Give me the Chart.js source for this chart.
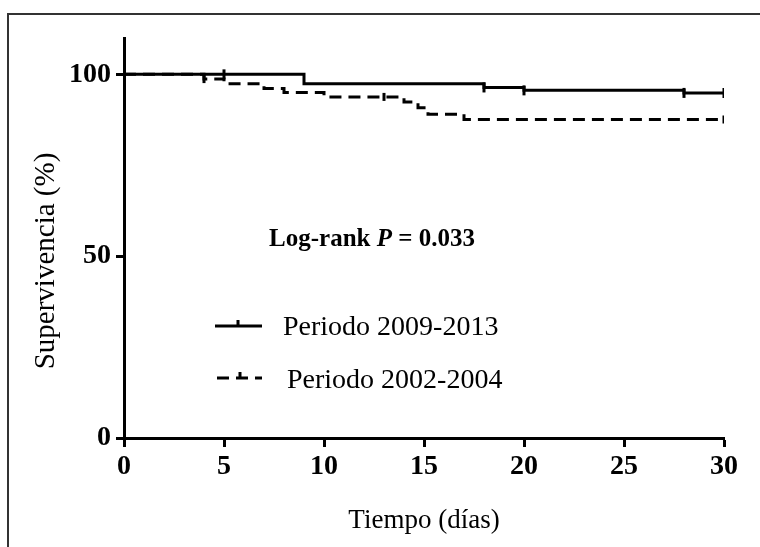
<!DOCTYPE html>
<html>
<head>
<meta charset="utf-8">
<script src="https://cdn.jsdelivr.net/npm/chart.js@4"></script>
<style>
    body { margin: 0; background: #fff; }
    #wrap { position: relative; width: 760px; height: 547px; overflow: hidden; }
    #frame { position: absolute; left: 7px; top: 13px; width: 800px; height: 600px;
             border-left: 2px solid #333; border-top: 2px solid #333; }
    canvas { position: absolute; left: 0; top: 0; }
</style>
</head>
<body>
<div id="wrap">
    <div id="frame"></div>
    <canvas id="kmChart" width="760" height="547"></canvas>
</div>
<script>
// Kaplan-Meier steps
const solidTimes = [0, 9, 18, 20, 28, 30];
const solidSurv = [100, 97.4, 96.4, 95.6, 94.9, 94.9];
const solidCensor = [5, 18, 20, 28, 30];

const dashTimes = [0, 4, 5, 7, 8, 10, 14, 14.7, 15.2, 17, 30];
const dashSurv = [100, 98.7, 97.4, 96.1, 95.0, 93.8, 92.4, 90.8, 89.0, 87.6, 87.6];
const dashCensor = [4, 13, 30];

const xTicks = [0, 5, 10, 15, 20, 25, 30];
const yTicks = [0, 50, 100];

const seriesNames = ["Periodo 2009-2013", "Periodo 2002-2004"];
const serif = "'Liberation Serif', 'Times New Roman', serif";

function survAt(times, surv, t) {
    let v = surv[0];
    for (let i = 0; i < times.length; i++) {
        if (times[i] <= t) v = surv[i];
    }
    return v;
}

function toPoints(xs, ys) {
    return xs.map((x, i) => ({ x: x, y: ys[i] }));
}

const extras = {
    id: "extras",
    afterDraw(chart) {
        const c = chart.ctx;
        c.save();
        c.fillStyle = "#000";
        c.strokeStyle = "#000";

        // axis titles
        c.font = "27px " + serif;
        c.textAlign = "center";
        c.textBaseline = "middle";
        c.fillText("Tiempo (días)", 424, 521);
        c.save();
        c.translate(46, 261);
        c.rotate(-Math.PI / 2);
        c.font = "29px " + serif;
        c.fillText("Supervivencia (%)", 0, 0);
        c.restore();

        // log-rank annotation
        c.textAlign = "left";
        const parts = [
            ["bold 25px " + serif, "Log-rank "],
            ["italic bold 25px " + serif, "P"],
            ["bold 25px " + serif, " = 0.033"]
        ];
        let total = 0;
        parts.forEach(p => { c.font = p[0]; total += c.measureText(p[1]).width; });
        let x = 372 - total / 2;
        parts.forEach(p => {
            c.font = p[0];
            c.fillText(p[1], x, 240);
            x += c.measureText(p[1]).width;
        });

        // legend
        c.lineWidth = 3;
        c.beginPath();
        c.moveTo(215, 326);
        c.lineTo(262, 326);
        c.moveTo(238, 326);
        c.lineTo(238, 320);
        c.stroke();
        c.setLineDash([12, 7]);
        c.beginPath();
        c.moveTo(217, 378);
        c.lineTo(262, 378);
        c.stroke();
        c.setLineDash([]);
        c.beginPath();
        c.moveTo(240, 378);
        c.lineTo(240, 372);
        c.stroke();

        c.font = "28px " + serif;
        c.fillText(seriesNames[0], 283, 328);
        c.fillText(seriesNames[1], 287, 381);
        c.restore();
    }
};

const ctx = document.getElementById("kmChart").getContext("2d");
new Chart(ctx, {
    type: "scatter",
    data: {
        datasets: [
            {
                label: seriesNames[0],
                data: toPoints(solidTimes, solidSurv),
                showLine: true,
                stepped: "before",
                borderColor: "#000",
                borderWidth: 3,
                pointRadius: 0
            },
            {
                label: seriesNames[1],
                data: toPoints(dashTimes, dashSurv),
                showLine: true,
                stepped: "before",
                borderColor: "#000",
                borderWidth: 3,
                borderDash: [12, 7],
                pointRadius: 0
            },
            {
                label: "censor1",
                data: solidCensor.map(t => ({ x: t, y: survAt(solidTimes, solidSurv, t) })),
                pointStyle: "line",
                rotation: 90,
                pointRadius: 5,
                borderWidth: 3,
                borderColor: "#000"
            },
            {
                label: "censor2",
                data: dashCensor.map(t => ({ x: t, y: survAt(dashTimes, dashSurv, t) })),
                pointStyle: "line",
                rotation: 90,
                pointRadius: 4,
                borderWidth: 3,
                borderColor: "#000"
            }
        ]
    },
    options: {
        responsive: false,
        animation: false,
        layout: { padding: { left: 0, right: 36, top: 38, bottom: 0 } },
        plugins: {
            legend: { display: false },
            tooltip: { enabled: false }
        },
        scales: {
            x: {
                type: "linear",
                min: 0,
                max: 30,
                afterBuildTicks: s => { s.ticks = xTicks.map(v => ({ value: v })); },
                afterFit: s => { s.height = 109; },
                border: { color: "#000", width: 3 },
                grid: { drawOnChartArea: false, drawTicks: true, tickLength: 9, tickWidth: 3, tickColor: "#000" },
                ticks: { color: "#000", padding: 3, font: { family: serif, size: 28, weight: "bold" } }
            },
            y: {
                min: 0,
                max: 110,
                afterBuildTicks: s => { s.ticks = yTicks.map(v => ({ value: v })); },
                afterFit: s => { s.width = 124; },
                border: { color: "#000", width: 3 },
                grid: { drawOnChartArea: false, drawTicks: true, tickLength: 8, tickWidth: 3, tickColor: "#000" },
                ticks: { color: "#000", padding: 5, font: { family: serif, size: 28, weight: "bold" } }
            }
        }
    },
    plugins: [extras]
});
</script>
</body>
</html>
